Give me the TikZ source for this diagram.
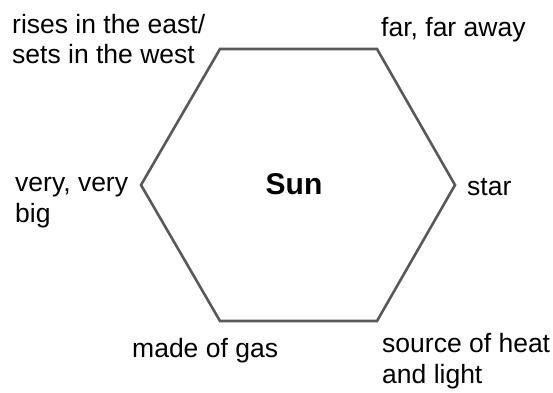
\documentclass[tikz,border=0pt]{standalone}
\usepackage{fontspec}
\setmainfont{Liberation Sans}
\begin{document}
\begin{tikzpicture}[x=1pt,y=-1pt,
  lbl/.style={anchor=base west,inner sep=0pt,align=left,font=\fontsize{26.5}{30.5}\selectfont,text=black},
  hexline/.style={draw=black!65,line width=2.6pt,line join=miter}]
\useasboundingbox[fill=white] (0,0) rectangle (553,392);
\coordinate (tl) at (220,49);
\coordinate (tr) at (377,49);
\coordinate (r) at (455,185);
\coordinate (br) at (377,321);
\coordinate (bl) at (220,321);
\coordinate (l) at (141,185);
\draw[hexline] (tl) -- (tr) -- (r) -- (br) -- (bl) -- (l) -- cycle;
\node[anchor=base,inner sep=0pt,font=\fontsize{30}{32}\selectfont\bfseries] (sun) at (294,194) {Sun};
\node[lbl] (east) at (12,63.5) {rises in the east/\\sets in the west};
\node[lbl] (far) at (381,36) {far, far away};
\node[lbl] (big) at (15,222) {very, very\\big};
\node[lbl] (star) at (467,195) {star};
\node[lbl] (gas) at (132,357) {made of gas};
\node[lbl] (heat) at (382,383) {source of heat\\and light};
\end{tikzpicture}
\end{document}
